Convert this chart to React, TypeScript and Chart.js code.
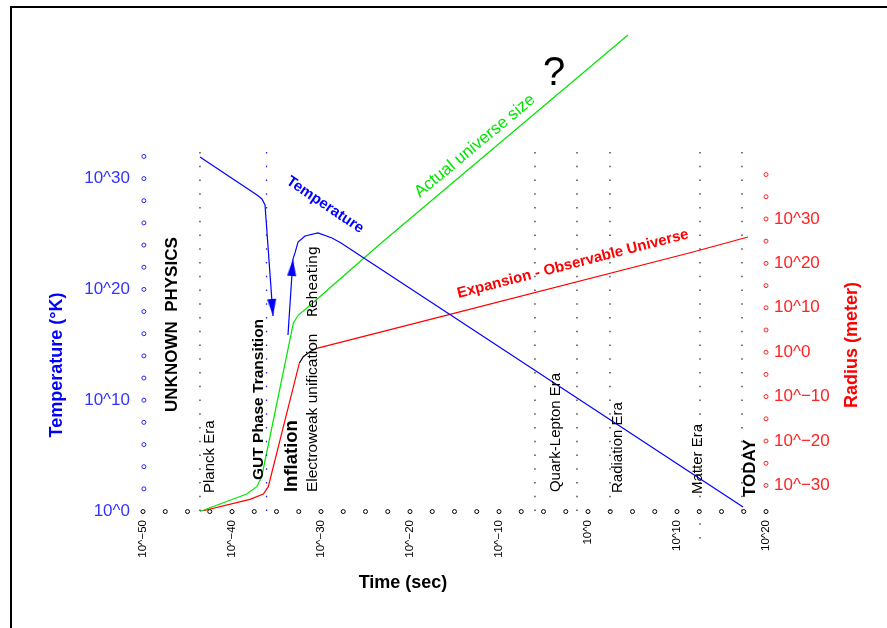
import React, { useEffect, useRef } from 'react';
import { Chart, registerables } from 'chart.js';

Chart.register(...registerables);

const FAMILY = '"Liberation Sans", Arial, Helvetica, sans-serif';

// log10(time / s)
const timeTicks = [-50, -40, -30, -20, -10, 0, 10, 20];
const timeMinor = [-50, -47.5, -45, -42.5, -40, -37.5, -35, -32.5, -30, -27.5, -25, -22.5, -20, -17.5, -15, -12.5, -10, -7.5, -5, -2.5, 0, 2.5, 5, 7.5, 10, 12.5, 15, 17.5, 20];
// log10(T / K)
const tempTicks = [0, 10, 20, 30];
const tempMinor = [2, 4, 6, 8, 10, 12, 14, 16, 18, 20, 22, 24, 26, 28, 30, 32];
// log10(R / m)
const radiusTicks = [-30, -20, -10, 0, 10, 20, 30];
const radiusMinor = [-30, -25, -20, -15, -10, -5, 0, 5, 10, 15, 20, 25, 30, 35, 40];

// Temperature (blue) : drop during GUT transition
const tempDropX = [-43.6, -37.19, -36.63, -36.29, -35.39];
const tempDropY = [31.95, 28.52, 28.16, 27.62, 17.6];
// Temperature : reheating and cooling to today
const tempRiseX = [-33.71, -33.15, -32.92, -32.58, -31.8, -30.34, -28.76, -27.75, 17.42];
const tempRiseY = [15.88, 22.74, 23.29, 24.28, 24.82, 25.09, 24.64, 24.19, 0.36];
// arrow heads on the temperature curve
const arrowX = [-35.39, -33.15];
const arrowY = [17.6, 22.74];
const arrowRotation = [175.5, 4.3];

// Actual universe size (green), radius axis
const actualSizeX = [-43.6, -38.35, -37.22, -36.66, -33.11, -32.55, -31.61, -23.37, 4.49];
const actualSizeY = [-35.86, -31.92, -30.28, -28.03, 6.51, 8.37, 9.88, 24.36, 71.41];
// Observable universe (red), radius axis
const observableX = [-43.6, -37.98, -36.48, -35.92, -32.44];
const observableY = [-35.86, -33.12, -31.92, -30.28, -2.5];
const electroweakX = [-32.44, -31.99, -31.24, -30.48];
const electroweakY = [-2.5, -1.01, 0.11, 0.88];
const observableLateX = [-30.48, -15.51, 11.8, 17.98];
const observableLateY = [0.88, 8.53, 22.56, 25.94];

// era boundaries (dotted verticals)
const eraLineX = [-43.6, -5.96, -1.24, 2.47, 12.58, 17.3];
const eraLineBottom = [0, 0, 0, 0, -2.5, 0];
const eraLineTop = 32.4;
const gutLineX = -36.12;

const pts = (xs: number[], ys: number[]) => xs.map((x, i) => ({ x, y: ys[i] }));
const fmt = (v: number) => '10^' + String(v).replace('-', '\u2212');

const eraLabels = [
  { text: 'UNKNOWN  PHYSICS', e: -46.74, u: 8.94, weight: 'bold', size: 17, family: FAMILY },
  { text: 'Planck Era', e: -42.47, u: 1.62, weight: 'normal', size: 15, family: FAMILY },
  { text: 'GUT Phase Transition', e: -36.97, u: 2.8, weight: 'bold', size: 15.5, family: FAMILY },
  { text: 'Inflation', e: -33.26, u: 1.71, weight: 'bold', size: 18.5, family: FAMILY },
  { text: 'Electroweak unification', e: -30.9, u: 1.71, weight: 'normal', size: 15.5, family: FAMILY },
  { text: 'Reheating', e: -30.9, u: 17.5, weight: 'normal', size: 14, family: '"DejaVu Sans", sans-serif' },
  { text: 'Quark-Lepton Era', e: -3.6, u: 1.71, weight: 'normal', size: 15, family: FAMILY },
  { text: 'Radiation Era', e: 3.37, u: 1.62, weight: 'normal', size: 15, family: FAMILY },
  { text: 'Matter Era', e: 12.36, u: 1.53, weight: 'normal', size: 15, family: FAMILY },
  { text: 'TODAY', e: 18.2, u: 1.26, weight: 'bold', size: 17, family: FAMILY },
];

const slantLabels = [
  { text: 'Temperature', e: -29.55, u: 27.62, angle: 34, weight: 'bold', size: 15, color: '#0000ff' },
  { text: 'Actual universe size', e: -12.7, u: 32.94, angle: -39.7, weight: 'normal', size: 17, color: '#00e600' },
  { text: '?', e: -3.82, u: 39.44, angle: 0, weight: 'normal', size: 40, color: '#000000' },
  { text: 'Expansion - Observable Universe', e: -1.69, u: 22.29, angle: -14.5, weight: 'bold', size: 15, color: '#ff0000' },
];

const annotationPlugin = {
  id: 'annotations',
  beforeDraw(chart: any) {
    const ctx = chart.ctx;
    ctx.save();
    ctx.fillStyle = '#ffffff';
    ctx.fillRect(0, 0, chart.width, chart.height);
    ctx.fillStyle = '#000000';
    ctx.fillRect(10, 6, chart.width - 10, 2);
    ctx.fillRect(10, 6, 2, chart.height - 6);
    ctx.restore();
  },
  afterDatasetsDraw(chart: any) {
    const ctx = chart.ctx;
    const xs = chart.scales.x;
    const ys = chart.scales.yT;
    ctx.save();
    ctx.fillStyle = '#000000';
    for (const l of eraLabels) {
      ctx.save();
      ctx.translate(xs.getPixelForValue(l.e), ys.getPixelForValue(l.u));
      ctx.rotate(-Math.PI / 2);
      ctx.font = `${l.weight} ${l.size}px ${l.family}`;
      ctx.textAlign = 'left';
      ctx.textBaseline = 'middle';
      ctx.fillText(l.text, 0, 0);
      ctx.restore();
    }
    for (const l of slantLabels) {
      ctx.save();
      ctx.translate(xs.getPixelForValue(l.e), ys.getPixelForValue(l.u));
      ctx.rotate((l.angle * Math.PI) / 180);
      ctx.font = `${l.weight} ${l.size}px ${FAMILY}`;
      ctx.fillStyle = l.color;
      ctx.textAlign = 'center';
      ctx.textBaseline = 'middle';
      ctx.fillText(l.text, 0, 0);
      ctx.restore();
    }
    // axis titles
    ctx.textAlign = 'center';
    ctx.textBaseline = 'middle';
    ctx.font = `bold 18px ${FAMILY}`;
    ctx.save();
    ctx.translate(57, 365);
    ctx.rotate(-Math.PI / 2);
    ctx.fillStyle = '#0000ff';
    ctx.fillText('Temperature (\u00b0K)', 0, 0);
    ctx.restore();
    ctx.save();
    ctx.translate(852, 345);
    ctx.rotate(-Math.PI / 2);
    ctx.fillStyle = '#ff0000';
    ctx.fillText('Radius (meter)', 0, 0);
    ctx.restore();
    ctx.fillStyle = '#000000';
    ctx.fillText('Time (sec)', 403, 583);
    ctx.restore();
  },
};

export default function App() {
  const ref = useRef<HTMLCanvasElement>(null);
  useEffect(() => {
    const canvas = ref.current;
    if (!canvas) return;
    const arrow = document.createElement('canvas');
    arrow.width = 9;
    arrow.height = 36;
    const actx = arrow.getContext('2d')!;
    actx.fillStyle = '#0000ff';
    actx.beginPath();
    actx.moveTo(4.5, 18);
    actx.lineTo(9, 35);
    actx.lineTo(0, 35);
    actx.closePath();
    actx.fill();

    const line = (data: any[], color: string, axis: string, extra: any = {}) => ({
      data,
      showLine: true,
      borderColor: color,
      borderWidth: 1.2,
      pointRadius: 0,
      yAxisID: axis,
      ...extra,
    });
    const circles = (data: any[], color: string, axis: string) => ({
      data,
      showLine: false,
      pointStyle: 'circle',
      pointRadius: 2,
      pointBorderWidth: 1,
      pointBorderColor: color,
      pointBackgroundColor: '#ffffff',
      yAxisID: axis,
      clip: false,
    });

    const datasets: any[] = [];
    eraLineX.forEach((e, i) => {
      datasets.push(line([{ x: e, y: eraLineTop }, { x: e, y: eraLineBottom[i] }], '#333333', 'yT', { borderDash: [1.5, 12.25], borderWidth: 1.3, clip: false }));
    });
    datasets.push(line([{ x: gutLineX, y: eraLineTop }, { x: gutLineX, y: 0 }], '#2222ff', 'yT', { borderDash: [1.5, 12.25], borderWidth: 1.3 }));
    datasets.push(line(pts(tempDropX, tempDropY), '#0000ff', 'yT'));
    datasets.push(line(pts(tempRiseX, tempRiseY), '#0000ff', 'yT'));
    datasets.push({
      data: pts(arrowX, arrowY),
      showLine: false,
      pointStyle: arrow,
      pointRadius: 5,
      pointRotation: arrowRotation,
      yAxisID: 'yT',
    });
    datasets.push(line(pts(actualSizeX, actualSizeY), '#00e600', 'yR', { clip: false }));
    datasets.push(line(pts(observableX, observableY), '#ff0000', 'yR'));
    datasets.push(line(pts(electroweakX, electroweakY), '#000000', 'yR'));
    datasets.push(line(pts(observableLateX, observableLateY), '#ff0000', 'yR'));
    datasets.push(circles(tempMinor.map((u) => ({ x: -49.9, y: u })), '#2222ff', 'yT'));
    datasets.push(circles(radiusMinor.map((v) => ({ x: 20, y: v })), '#ff2222', 'yR'));
    datasets.push(circles(timeMinor.map((e) => ({ x: e, y: -0.05 })), '#000000', 'yT'));

    const chart = new Chart(canvas, {
      type: 'scatter',
      data: { datasets },
      plugins: [annotationPlugin],
      options: {
        responsive: false,
        animation: false,
        events: [],
        devicePixelRatio: 1,
        layout: { padding: { top: 30, left: 0, right: 0, bottom: 0 } },
        plugins: { legend: { display: false }, tooltip: { enabled: false } },
        scales: {
          x: {
            type: 'linear',
            position: 'bottom',
            min: -50,
            max: 20,
            grid: { display: false },
            border: { display: false },
            afterBuildTicks: (s: any) => { s.ticks = timeTicks.map((value) => ({ value })); },
            afterFit: (s: any) => { s.height = 117; },
            ticks: {
              autoSkip: false,
              minRotation: 90,
              maxRotation: 90,
              padding: 1,
              color: '#000000',
              font: { family: FAMILY, size: 11.5 },
              callback: (v: any) => fmt(Number(v)),
            },
          },
          yT: {
            type: 'linear',
            position: 'left',
            min: 0,
            max: 43.41,
            grid: { display: false },
            border: { display: false },
            afterBuildTicks: (s: any) => { s.ticks = tempTicks.map((value) => ({ value })); },
            afterFit: (s: any) => { s.width = 143; },
            ticks: {
              padding: 5,
              color: '#3333ff',
              font: { family: FAMILY, size: 17 },
              callback: (v: any) => fmt(Number(v)),
            },
          },
          yR: {
            type: 'linear',
            position: 'right',
            min: -35.75,
            max: 72.54,
            grid: { display: false },
            border: { display: false },
            afterBuildTicks: (s: any) => { s.ticks = radiusTicks.map((value) => ({ value })); },
            afterFit: (s: any) => { s.width = 121; },
            ticks: {
              padding: 0,
              color: '#ff2222',
              font: { family: FAMILY, size: 17 },
              callback: (v: any) => fmt(Number(v)),
            },
          },
        },
      } as any,
    });
    return () => chart.destroy();
  }, []);
  return (
    <canvas
      ref={ref}
      width={887}
      height={628}
      style={{ position: 'absolute', left: 0, top: 0, width: 887, height: 628, display: 'block' }}
    />
  );
}
